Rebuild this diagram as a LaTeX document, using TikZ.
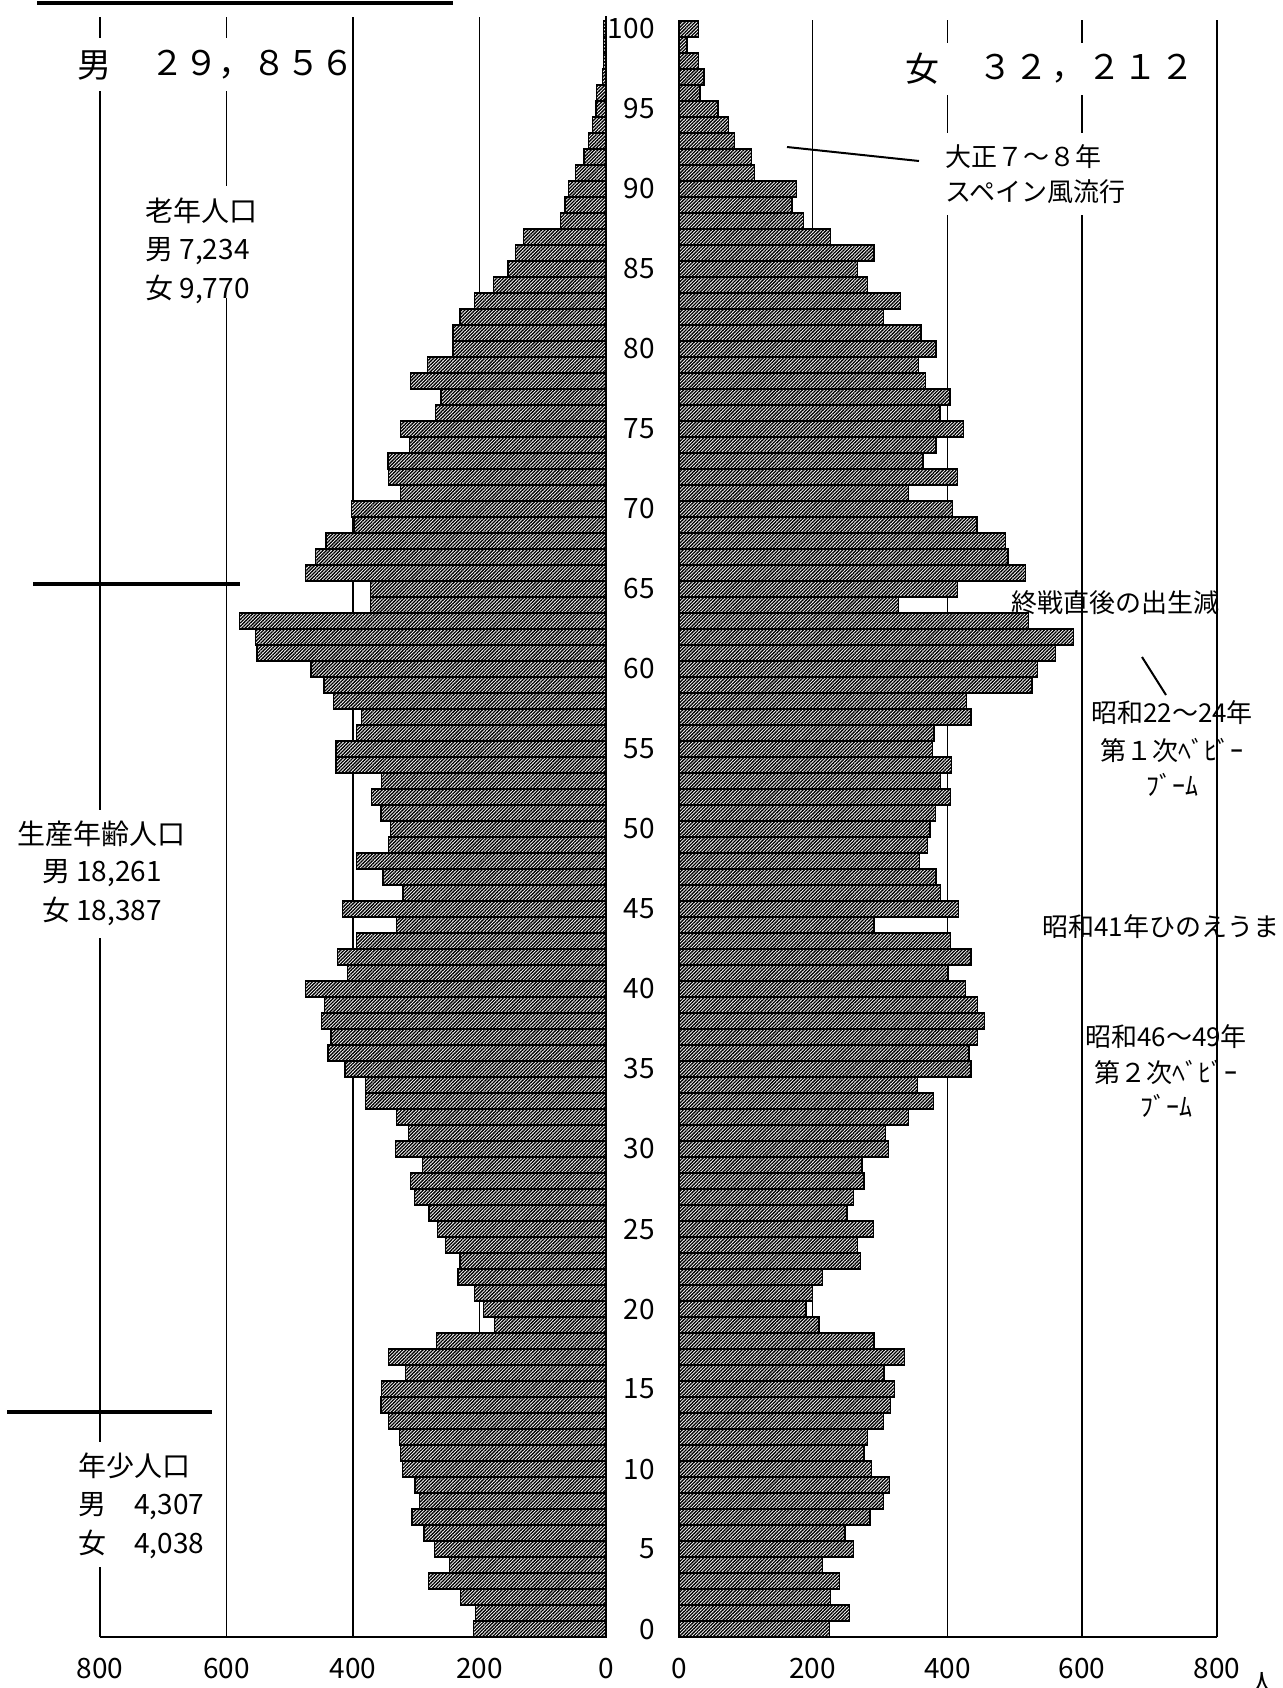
\documentclass[tikz,border=0pt]{standalone}
\usepackage{fontspec}
\setmainfont{Noto Sans CJK JP}
\usetikzlibrary{patterns.meta}
\newcommand\fsblk{\fontsize{14pt}{16pt}\selectfont}
\newcommand\fsann{\fontsize{13pt}{15pt}\selectfont}
\newcommand\fsbig{\fontsize{17pt}{20pt}\selectfont}
\newcommand\fsnum{\fontsize{14pt}{16pt}\selectfont}
\begin{document}
\begin{tikzpicture}[x=0.5pt,y=-0.5pt,
  gridln/.style={line width=0.65pt},
  basel/.style={line width=1.25pt},
  sepln/.style={line width=1.6pt},
  leader/.style={line width=1pt},
  hbar/.style={draw,line width=0.65pt,preaction={fill=white},
    pattern={Lines[angle=45,distance=1.2pt,line width=0.68pt]}},
  txt/.style={inner sep=0pt,font=\fsblk},
  ann/.style={inner sep=0pt,font=\fsann},
  big/.style={inner sep=0pt,font=\fsbig},
  agelbl/.style={inner sep=0pt,anchor=east,font=\fsnum},
  axlbl/.style={inner sep=0pt,font=\fsnum}]
\useasboundingbox (0,0) rectangle (1282,1688);
% gridlines
\foreach \x in {100,226.5,353,479.5} \draw[gridln] (\x,17) -- (\x,1637);
\foreach \x in {812.5,947.5,1082,1217} \draw[gridln] (\x,20) -- (\x,1637);
% bars
\foreach \v [count=\a from 0] in {210,206,230,281,248,271,288,307,295,302,
  322,325,327,344,356,355,317,344,268,176,
  194,208,234,231,254,267,280,303,309,290,
  333,313,331,381,381,413,440,435,450,445,
  475,409,425,395,331,417,321,353,395,344,
  341,356,371,355,427,427,395,387,431,446,
  467,552,555,580,373,373,476,460,443,398,
  403,325,344,345,311,325,270,261,309,282,
  242,242,231,208,178,155,143,130,72,65,
  59,48,35,28,21,16,15,6,4,4,4}
  \draw[hbar] ({606-0.632*\v},{1621-16*\a}) rectangle (606,{1637-16*\a});
\foreach \v [count=\a from 0] in {224,253,225,239,213,259,247,284,304,313,
  286,275,280,304,314,320,305,335,290,208,
  189,199,213,270,265,289,250,259,275,272,
  312,307,341,378,355,434,431,444,454,444,
  426,400,434,404,290,416,389,382,358,370,
  373,381,404,389,405,377,379,434,428,525,
  533,560,587,520,326,414,515,489,486,443,
  407,341,414,363,382,423,388,403,367,356,
  382,360,304,329,280,265,290,225,185,168,
  175,112,108,83,74,58,31,37,29,12,29}
  \draw[hbar] (679,{1621-16*\a}) rectangle ({679+0.6725*\v},{1637-16*\a});
% baselines and axes
\draw[basel] (606,16) -- (606,1637);
\draw[basel] (679,20) -- (679,1637);
\draw[gridln,line width=0.75pt] (100,1637) -- (606,1637);
\draw[gridln,line width=0.75pt] (679,1637) -- (1217,1637);
% separators
\draw[sepln] (37,3) -- (453,3);
\draw[sepln] (33,584) -- (240,584);
\draw[sepln] (7,1412) -- (212,1412);
% white boxes behind texts
\fill[white] (62,38) rectangle (349,91);
\fill[white] (138,186) rectangle (268,298);
\fill[white] (12,810) rectangle (192,938);
\fill[white] (70,1442) rectangle (215,1567);
\fill[white] (900,43) rectangle (1195,95);
\fill[white] (938,133) rectangle (1135,215);
% totals
\node[big,anchor=west] (tm) at (77,65) {男};
\node[big,anchor=west] (tmn) at (150,65) {２９，８５６};
\node[big,anchor=west] (tf) at (905,69) {女};
\node[big,anchor=west] (tfn) at (978,69) {\addfontfeature{LetterSpace=7}３２，２１２};
% age group blocks
\node[txt,anchor=west] (old1) at (145,211) {老年人口};
\node[txt,anchor=west] (old2) at (145,251) {男 7,234};
\node[txt,anchor=west] (old3) at (145,289) {女 9,770};
\node[txt] (wk1) at (102,834) {生産年齢人口};
\node[txt] (wk2) at (102,873) {男 18,261};
\node[txt] (wk3) at (102,911) {女 18,387};
\node[txt,anchor=west] (yg1) at (78,1466) {年少人口};
\node[txt,anchor=west] (yg2) at (78,1506) {男　4,307};
\node[txt,anchor=west] (yg3) at (78,1544) {女　4,038};
% annotations
\node[ann,anchor=west] (tai1) at (945,157) {大正７～８年};
\node[ann,anchor=west] (tai2) at (945,192) {スペイン風流行};
\coordinate (tail) at (787,147);
\coordinate (taihead) at (919,161);
\draw[leader] (tail) -- (taihead);
\node[ann,anchor=west] (sen) at (1011,603) {終戦直後の出生減};
\node[ann] (bb1a) at (1172,713) {昭和22～24年};
\node[ann] (bb1b) at (1172,750) {第１次ﾍﾞﾋﾞｰ};
\node[ann] (bb1c) at (1172,785) {ﾌﾞｰﾑ};
\coordinate (sentail) at (1142,657);
\coordinate (senhead) at (1166,695);
\draw[leader] (sentail) -- (senhead);
\node[ann,anchor=west] (hino) at (1042,927) {昭和41年ひのえうま};
\node[ann] (bb2a) at (1166,1037) {昭和46～49年};
\node[ann] (bb2b) at (1166,1072) {第２次ﾍﾞﾋﾞｰ};
\node[ann] (bb2c) at (1166,1106) {ﾌﾞｰﾑ};
% age labels
\foreach \a in {0,5,...,100} \node[agelbl] (age\a) at (655,{1629-16*\a}) {\a};
% axis labels
\foreach \v/\x in {800/100,600/226.5,400/353,200/479.5,0/606}
  \node[axlbl] (ll\v) at (\x,1668) {\v};
\foreach \v/\x in {0/679,200/812.5,400/947.5,600/1082,800/1217}
  \node[axlbl] (rl\v) at (\x,1668) {\v};
\node[ann] (unit) at (1262,1684) {人};
\end{tikzpicture}
\end{document}
